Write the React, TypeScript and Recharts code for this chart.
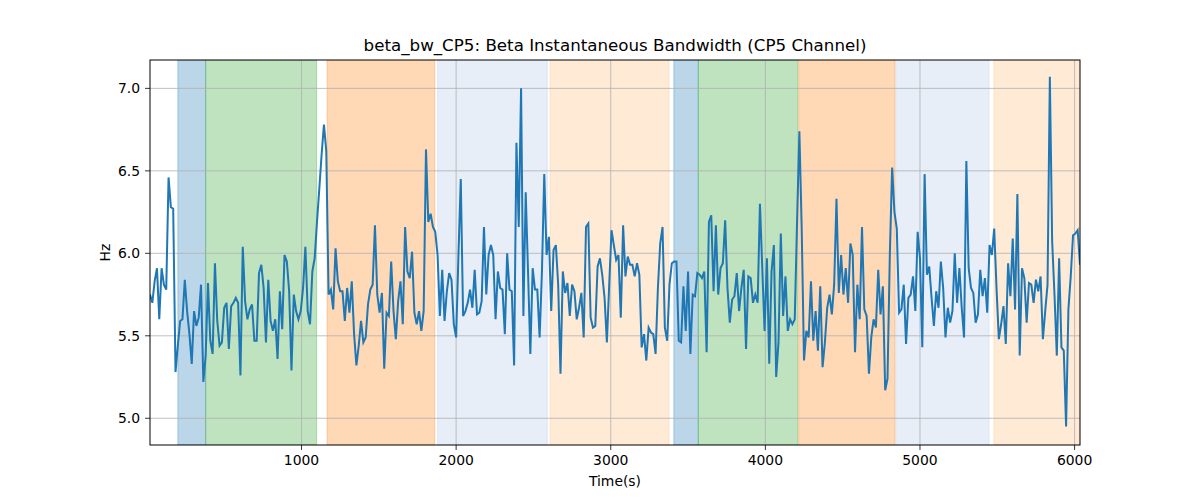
import {
  Line,
  LineChart,
  ReferenceArea,
  ReferenceLine,
  XAxis,
  YAxis,
} from "recharts";

// beta_bw_CP5 samples, one every 15 s starting at t = 20 s
const T0 = 20;
const DT = 15;
const bandwidth = [
  5.75, 5.70, 5.83, 5.91, 5.60, 5.91, 5.81, 5.78, 6.46, 6.28, 6.27, 5.28, 5.44, 5.59, 5.60, 5.84,
  5.65, 5.51, 5.33, 5.65, 5.56, 5.61, 5.81, 5.22, 5.38, 5.82, 5.47, 5.39, 5.94, 5.59, 5.44, 5.46,
  5.67, 5.70, 5.42, 5.68, 5.70, 5.73, 5.70, 5.26, 6.04, 5.71, 5.60, 5.66, 5.69, 5.47, 5.47, 5.88,
  5.93, 5.79, 5.46, 5.84,
  5.59, 5.53, 5.60, 5.36, 5.77, 5.54, 5.99, 5.95, 5.77, 5.29, 5.75, 5.65, 5.60, 5.65, 5.79, 6.04,
  5.65, 5.57, 5.89, 5.97, 6.19, 6.39, 6.60, 6.78, 6.62, 5.75, 5.78, 5.66, 6.03, 5.83, 5.77, 5.77,
  5.59, 5.79, 5.64, 5.83, 5.51, 5.32, 5.44, 5.59, 5.46, 5.49, 5.69, 5.78, 5.81, 6.17, 5.75, 5.64,
  5.76, 5.30, 5.64, 5.62,
  5.95, 5.65, 5.48, 5.71, 5.83, 5.57, 6.16, 5.89, 5.85, 6.01, 5.64, 5.57, 5.65, 5.53, 5.65, 6.63,
  6.19, 6.24, 6.16, 6.13, 5.99, 5.62, 5.90, 5.59, 5.77, 5.88, 5.84, 5.57, 5.49, 5.99, 6.45, 5.62,
  5.65, 5.70, 5.78, 5.67, 5.90, 5.63, 5.64, 5.71, 6.16, 5.75, 5.99, 6.05, 5.99, 5.60, 5.89, 5.79,
  5.78, 5.51, 6.00, 5.78,
  5.77, 5.32, 6.67, 6.16, 7.00, 5.62, 6.37, 5.89, 5.39, 5.91, 5.78, 5.78, 5.49, 5.89, 6.48, 5.99,
  6.10, 5.65, 6.02, 6.05, 5.81, 5.27, 5.89, 5.76, 5.82, 5.62, 5.81, 5.77, 5.60, 5.67, 5.76, 5.49,
  6.16, 6.18, 5.61, 5.55, 5.56, 5.92, 5.97, 5.87, 5.73, 5.46, 5.81, 6.14, 6.05, 5.96, 5.99, 5.61,
  6.17, 5.86, 5.98,
  5.93, 5.93, 5.86, 5.94, 5.87, 5.43, 5.51, 5.35, 5.55, 5.52, 5.51, 5.39, 5.79, 6.06, 6.16, 5.55,
  5.47, 5.81, 5.94, 5.95, 5.95, 5.47, 5.46, 5.80, 5.53, 5.89, 5.39, 5.75, 5.74, 5.88, 5.87, 5.85,
  5.89, 5.40, 6.19, 6.23, 5.77, 6.17, 5.75, 5.91, 5.94, 6.20, 5.79, 5.58, 5.72, 5.74, 5.88, 5.65,
  5.79, 5.90, 5.42, 5.86,
  5.85, 5.70, 5.75, 5.70, 6.30, 5.91, 5.53, 5.97, 5.33, 5.89, 6.05, 5.25, 5.46, 6.12, 5.62, 5.86,
  5.53, 5.60, 5.57, 5.60, 6.19, 6.74, 6.15, 5.35, 5.53, 5.49, 5.83, 5.47, 5.65, 5.41, 5.80, 5.31,
  5.46, 5.67, 5.75, 5.63, 5.81, 6.33, 5.76, 5.99, 5.75, 5.91, 5.70, 6.06, 5.99, 5.40, 5.81, 5.60,
  6.16, 5.66, 5.62, 5.27,
  5.49, 5.60, 5.55, 5.90, 5.63, 5.80, 5.17, 5.24, 5.99, 6.52, 6.25, 6.15, 5.64, 5.66, 5.81, 5.45,
  5.73, 5.75, 5.86, 5.65, 6.13, 5.97, 5.43, 6.48, 5.87, 5.92, 5.73, 5.56, 5.77, 5.67, 5.95, 5.79,
  5.49, 5.67, 5.58, 5.65, 6.00, 5.70, 5.91, 5.67, 5.49, 6.56, 5.91, 5.79, 5.76, 5.58, 5.63, 5.90,
  5.74, 5.85, 5.64, 6.05,
  5.99, 6.15, 5.79, 5.48, 5.57, 5.68, 5.45, 5.94, 5.74, 6.09, 5.66, 6.36, 5.38, 5.91, 5.85, 5.58,
  5.82, 5.81, 5.70, 5.84, 5.77, 5.86, 5.48, 5.65, 5.81, 7.07, 6.07, 5.75, 5.38, 5.97, 5.43, 5.41,
  4.95, 5.66, 5.86, 6.11, 6.12, 6.14, 5.93,
];

// shaded phases (seconds)
const spanStart = [200, 380, 1165, 1880, 2607, 3408, 3566, 4216, 4843, 5478];
const spanEnd = [380, 1098, 1862, 2590, 3377, 3566, 4210, 4838, 5447, 6035];
const spanPhase = ["a", "b", "c", "d", "e", "a", "b", "c", "d", "e"];

const xTicks = [1000, 2000, 3000, 4000, 5000, 6000];
const yTicks = [5.0, 5.5, 6.0, 6.5, 7.0];

const phaseColor: Record<string, string> = {
  a: "#1f77b4",
  b: "#2ca02c",
  c: "#ff7f0e",
  d: "#aec7e8",
  e: "#ffbb78",
};

const data = bandwidth.map((v, i) => ({ t: T0 + i * DT, v }));
const xMax = T0 + (bandwidth.length - 1) * DT;

const FONT = "'DejaVu Sans', sans-serif";
const tickStyle = { fontSize: 13.9, fill: "#000", fontFamily: FONT };

export default function App() {
  return (
    <div style={{ position: "relative", width: 1200, height: 500, background: "#fff" }}>
      <style>{"body{margin:0}"}</style>
      <LineChart
        width={1200}
        height={500}
        data={data}
        margin={{ top: 60, right: 120, bottom: 25, left: 100 }}
      >
        {spanStart.map((s, i) => (
          <ReferenceArea
            key={"s" + i}
            x1={s}
            x2={spanEnd[i]}
            fill={phaseColor[spanPhase[i]]}
            fillOpacity={0.3}
            stroke={phaseColor[spanPhase[i]]}
            strokeOpacity={0.3}
            ifOverflow="hidden"
          />
        ))}
        {/* grid drawn over the spans, as matplotlib does */}
        {xTicks.map((t) => (
          <ReferenceLine key={"gx" + t} x={t} stroke="#b0b0b0" strokeWidth={0.8} />
        ))}
        {yTicks.map((t) => (
          <ReferenceLine key={"gy" + t} y={t} stroke="#b0b0b0" strokeWidth={0.8} />
        ))}
        <XAxis
          dataKey="t"
          type="number"
          domain={[T0, xMax]}
          ticks={xTicks}
          allowDataOverflow
          height={30}
          axisLine={false}
          tickSize={5}
          tickMargin={5}
          tickLine={{ stroke: "#000", strokeWidth: 0.8 }}
          tick={tickStyle}
        />
        <YAxis
          type="number"
          domain={[4.838, 7.172]}
          ticks={yTicks}
          allowDataOverflow
          width={50}
          axisLine={false}
          tickSize={5}
          tickMargin={5}
          tickLine={{ stroke: "#000", strokeWidth: 0.8 }}
          tick={tickStyle}
          tickFormatter={(v: number) => v.toFixed(1)}
        />
        <Line
          type="linear"
          dataKey="v"
          stroke="#1f77b4"
          strokeWidth={2}
          dot={false}
          isAnimationActive={false}
        />
      </LineChart>
      <svg
        width={1200}
        height={500}
        style={{ position: "absolute", left: 0, top: 0, pointerEvents: "none" }}
      >
        <rect x={150} y={60} width={930} height={385} fill="none" stroke="#000" strokeWidth={1} />
        <text x={615} y={51} textAnchor="middle" fontSize={16.7} fontFamily={FONT} fill="#000">
          beta_bw_CP5: Beta Instantaneous Bandwidth (CP5 Channel)
        </text>
        <text x={615} y={486} textAnchor="middle" fontSize={13.9} fontFamily={FONT} fill="#000">
          Time(s)
        </text>
        <text
          x={110}
          y={252.5}
          textAnchor="middle"
          fontSize={13.9}
          fontFamily={FONT}
          fill="#000"
          transform="rotate(-90 110 252.5)"
        >
          Hz
        </text>
      </svg>
    </div>
  );
}
